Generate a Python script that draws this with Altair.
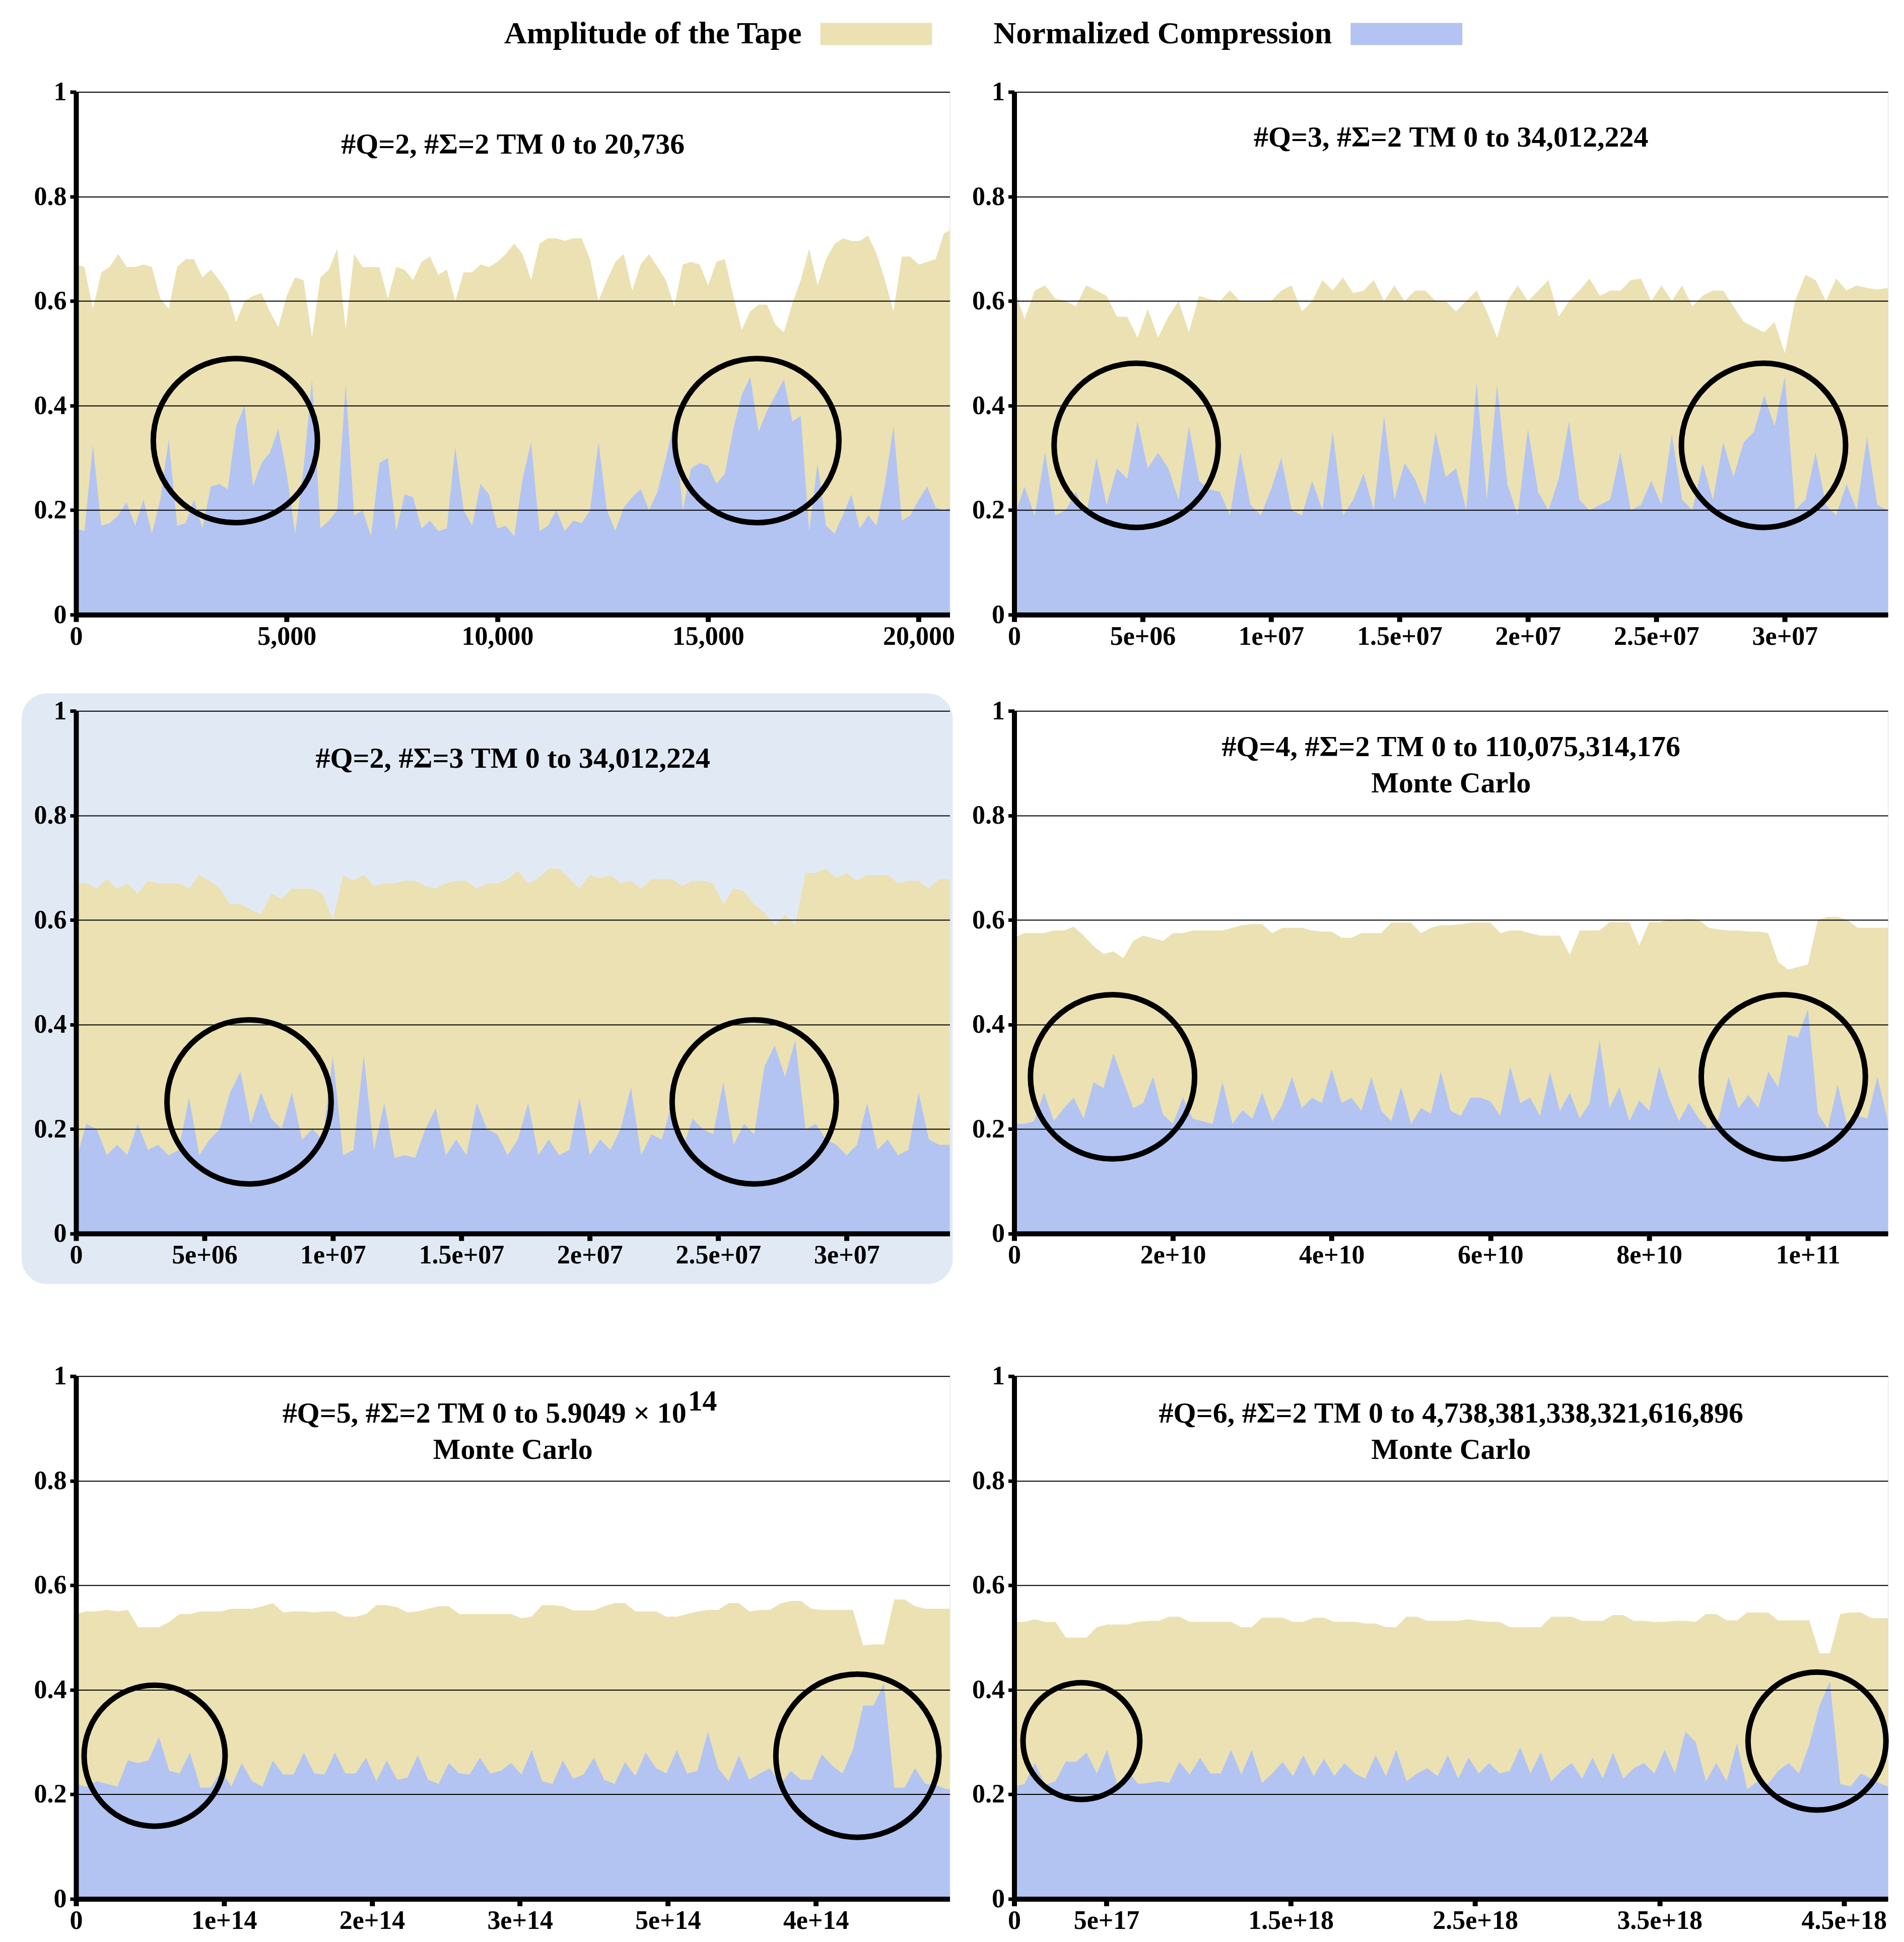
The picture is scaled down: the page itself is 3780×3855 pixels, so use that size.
import altair as alt
import pandas as pd

TAN = "#EBE1B3"
BLUE = "#B3C4F2"
HIGHLIGHT = "#E1EAF4"
FONT = "Liberation Serif"
W, H = 1735, 1038

legend_names = ["Amplitude of the Tape", "Normalized Compression"]
legend_colors = [TAN, BLUE]

# ---------------- panel 1 ----------------
p1_xmax = 20736
p1_step = 200
p1_amp = [0.67, 0.665, 0.585, 0.655, 0.665, 0.69, 0.665, 0.665, 0.67, 0.665,
          0.605, 0.585, 0.665, 0.68, 0.68, 0.645, 0.66, 0.64, 0.615, 0.56,
          0.6, 0.61, 0.615, 0.58, 0.55, 0.61, 0.645, 0.64, 0.53, 0.645,
          0.66, 0.7, 0.545, 0.69, 0.665, 0.665, 0.665, 0.605, 0.665, 0.66,
          0.64, 0.675, 0.685, 0.65, 0.66, 0.6, 0.655, 0.655, 0.67, 0.665,
          0.675, 0.69, 0.71, 0.69,
          0.64, 0.71, 0.72, 0.72, 0.715, 0.72, 0.72, 0.68, 0.6, 0.64,
          0.675, 0.69, 0.62, 0.67, 0.69, 0.665, 0.64, 0.59, 0.67, 0.675,
          0.67, 0.63, 0.675, 0.68, 0.61, 0.545, 0.58, 0.593, 0.593, 0.555,
          0.54, 0.596, 0.64, 0.7, 0.63, 0.68, 0.709, 0.72, 0.715, 0.715,
          0.725, 0.69, 0.64, 0.58, 0.685, 0.685, 0.67, 0.675, 0.68, 0.73,
          0.735]
p1_comp = [0.165, 0.16, 0.324, 0.17, 0.175, 0.19, 0.215, 0.17, 0.22, 0.155,
           0.22, 0.335, 0.17, 0.175, 0.22, 0.165, 0.245, 0.25, 0.24, 0.36,
           0.40, 0.245, 0.29, 0.31, 0.355, 0.27, 0.155, 0.28, 0.45, 0.165,
           0.18, 0.2, 0.44, 0.19, 0.2, 0.15, 0.29, 0.3, 0.16, 0.23,
           0.225, 0.165, 0.18, 0.16, 0.165, 0.32, 0.2, 0.17, 0.25, 0.23,
           0.165, 0.17, 0.15, 0.26,
           0.33, 0.16, 0.17, 0.2, 0.16, 0.18, 0.175, 0.2, 0.33, 0.2,
           0.16, 0.205, 0.225, 0.24, 0.2, 0.235, 0.3, 0.37, 0.2, 0.28,
           0.29, 0.285, 0.25, 0.27, 0.355, 0.42, 0.455, 0.35, 0.39, 0.42,
           0.45, 0.37, 0.38, 0.16, 0.29, 0.17, 0.155, 0.19, 0.23, 0.165,
           0.19, 0.17, 0.25, 0.36, 0.18, 0.19, 0.22, 0.245, 0.205, 0.2,
           0.205]
p1_ticks = [0, 5000, 10000, 15000, 20000]
p1_labels = ["0", "5,000", "10,000", "15,000", "20,000"]
p1_circle_x = [3781, 16158]
p1_circle_y = [0.333, 0.333]
p1_title = ["#Q=2, #\u03a3=2 TM 0 to 20,736"]

# ---------------- panel 2 ----------------
p2_xmax = 34012224
p2_step = 400000
p2_amp = [0.625, 0.565, 0.62, 0.63, 0.605, 0.6, 0.59, 0.63, 0.62, 0.61,
          0.57, 0.57, 0.53, 0.585, 0.53, 0.57, 0.6, 0.54, 0.61, 0.604,
          0.6, 0.62, 0.6, 0.6, 0.6, 0.6, 0.62, 0.63, 0.58, 0.6,
          0.64, 0.62, 0.645, 0.615, 0.62, 0.64, 0.6, 0.63, 0.6, 0.62,
          0.62, 0.6, 0.6, 0.58, 0.6, 0.62, 0.58, 0.53, 0.6, 0.63,
          0.6, 0.62, 0.64, 0.57, 0.6, 0.62, 0.643, 0.61, 0.62, 0.62,
          0.64, 0.643, 0.6, 0.63, 0.6, 0.63, 0.59, 0.61, 0.62, 0.62,
          0.59, 0.56, 0.55, 0.54, 0.56, 0.5, 0.6, 0.65, 0.64, 0.6,
          0.643, 0.62, 0.63, 0.625, 0.622, 0.625, 0.62]
p2_comp = [0.185, 0.245, 0.19, 0.31, 0.19, 0.2, 0.235, 0.19, 0.3, 0.21,
           0.28, 0.26, 0.37, 0.28, 0.31, 0.28, 0.22, 0.36, 0.256, 0.24,
           0.235, 0.19, 0.31, 0.21, 0.19, 0.24, 0.3, 0.2, 0.19, 0.256,
           0.2, 0.35, 0.19, 0.22, 0.27, 0.2, 0.38, 0.22, 0.29, 0.26,
           0.21, 0.35, 0.263, 0.28, 0.2, 0.444, 0.22, 0.44, 0.25, 0.19,
           0.355, 0.234, 0.2, 0.26, 0.37, 0.22, 0.2, 0.21, 0.22, 0.31,
           0.2, 0.21, 0.256, 0.21, 0.345, 0.22, 0.2, 0.29, 0.22, 0.33,
           0.263, 0.33, 0.35, 0.42, 0.36, 0.455, 0.2, 0.22, 0.31, 0.21,
           0.19, 0.25, 0.2, 0.34, 0.21, 0.2, 0.2]
p2_ticks = [0, 5e6, 1e7, 1.5e7, 2e7, 2.5e7, 3e7]
p2_labels = ["0", "5e+06", "1e+07", "1.5e+07", "2e+07", "2.5e+07", "3e+07"]
p2_circle_x = [4.748e6, 2.917e7]
p2_circle_y = [0.324, 0.324]
p2_title = ["#Q=3, #\u03a3=2 TM 0 to 34,012,224"]

# ---------------- panel 3 ----------------
p3_xmax = 34012224
p3_step = 400000
p3_amp = [0.67, 0.67, 0.66, 0.678, 0.66, 0.67, 0.65, 0.675, 0.67, 0.67,
          0.67, 0.66, 0.686, 0.675, 0.66, 0.63, 0.63, 0.62, 0.61, 0.65,
          0.64, 0.66, 0.66, 0.66, 0.65, 0.6, 0.686, 0.675, 0.686, 0.665,
          0.67, 0.67, 0.675, 0.675, 0.665, 0.66, 0.67, 0.675, 0.675, 0.66,
          0.67, 0.67, 0.678, 0.694, 0.67, 0.68, 0.698, 0.698, 0.68, 0.66,
          0.686, 0.68, 0.686, 0.67, 0.675, 0.66, 0.678, 0.678, 0.678, 0.665,
          0.675, 0.675, 0.67, 0.63, 0.66, 0.655, 0.63, 0.614, 0.59, 0.61,
          0.59, 0.69, 0.69, 0.698, 0.68, 0.69, 0.675, 0.686, 0.686, 0.686,
          0.67, 0.675, 0.675, 0.66, 0.678, 0.678, 0.675]
p3_comp = [0.14, 0.21, 0.2, 0.15, 0.17, 0.15, 0.21, 0.16, 0.17, 0.15,
           0.16, 0.26, 0.15, 0.18, 0.2, 0.27, 0.31, 0.21, 0.27, 0.22,
           0.2, 0.27, 0.18, 0.2, 0.18, 0.34, 0.15, 0.16, 0.34, 0.16,
           0.25, 0.145, 0.15, 0.145, 0.2, 0.24, 0.15, 0.18, 0.15, 0.25,
           0.2, 0.19, 0.15, 0.18, 0.25, 0.15, 0.18, 0.15, 0.16, 0.26,
           0.15, 0.18, 0.16, 0.2, 0.28, 0.15, 0.19, 0.18, 0.25, 0.16,
           0.22, 0.2, 0.19, 0.29, 0.17, 0.21, 0.19, 0.32, 0.36, 0.3,
           0.37, 0.2, 0.21, 0.18, 0.17, 0.15, 0.17, 0.25, 0.16, 0.18,
           0.15, 0.16, 0.27, 0.18, 0.17, 0.17, 0.17]
p3_ticks = p2_ticks
p3_labels = p2_labels
p3_circle_x = [6.735e6, 2.640e7]
p3_circle_y = [0.252, 0.252]
p3_title = ["#Q=2, #\u03a3=3 TM 0 to 34,012,224"]

# ---------------- panel 4 ----------------
p4_xmax = 110075314176
p4_step = 1.25e9
p4_amp = [0.566, 0.575, 0.575, 0.575, 0.58, 0.58, 0.587, 0.57, 0.55, 0.535,
          0.54, 0.527, 0.56, 0.57, 0.565, 0.56, 0.575, 0.575, 0.58, 0.58,
          0.58, 0.58, 0.585, 0.59, 0.592, 0.592, 0.575, 0.585, 0.585, 0.585,
          0.58, 0.578, 0.578, 0.566, 0.566, 0.575, 0.575, 0.575, 0.595, 0.595,
          0.595, 0.575, 0.585, 0.59, 0.59, 0.592, 0.595, 0.595, 0.595, 0.575,
          0.58, 0.58, 0.575, 0.57, 0.57, 0.57, 0.534, 0.58, 0.58, 0.58,
          0.596, 0.596, 0.596, 0.551, 0.596, 0.596, 0.6, 0.6, 0.602, 0.6,
          0.585, 0.582, 0.58, 0.58, 0.578, 0.578, 0.575, 0.52, 0.505, 0.51,
          0.515, 0.6, 0.606, 0.606, 0.6, 0.585, 0.585, 0.585, 0.585, 0.585]
p4_comp = [0.21, 0.21, 0.215, 0.27, 0.215, 0.24, 0.26, 0.22, 0.29, 0.278,
           0.345, 0.292, 0.24, 0.25, 0.3, 0.228, 0.21, 0.26, 0.22, 0.215,
           0.21, 0.29, 0.21, 0.236, 0.22, 0.27, 0.215, 0.245, 0.3, 0.24,
           0.26, 0.25, 0.315, 0.25, 0.26, 0.235, 0.3, 0.235, 0.215, 0.28,
           0.21, 0.24, 0.23, 0.31, 0.235, 0.225, 0.26, 0.26, 0.253, 0.225,
           0.32, 0.25, 0.26, 0.225, 0.31, 0.235, 0.27, 0.22, 0.25, 0.37,
           0.24, 0.28, 0.215, 0.255, 0.235, 0.32, 0.26, 0.215, 0.25, 0.22,
           0.2, 0.22, 0.3, 0.24, 0.265, 0.24, 0.31, 0.28, 0.38, 0.375,
           0.43, 0.23, 0.2, 0.285, 0.205, 0.225, 0.22, 0.3, 0.22, 0.21]
p4_ticks = [0, 2e10, 4e10, 6e10, 8e10, 1e11]
p4_labels = ["0", "2e+10", "4e+10", "6e+10", "8e+10", "1e+11"]
p4_circle_x = [1.239e10, 9.69e10]
p4_circle_y = [0.30, 0.30]
p4_title = ["#Q=4, #\u03a3=2 TM 0 to 110,075,314,176", "Monte Carlo"]

# ---------------- panel 5 ----------------
p5_xmax = 5.9049e14
p5_step = 7e12
p5_amp = [0.545, 0.55, 0.55, 0.553, 0.55, 0.553, 0.52, 0.52, 0.52, 0.53,
          0.545, 0.545, 0.55, 0.55, 0.55, 0.555, 0.555, 0.555, 0.56, 0.566,
          0.548, 0.55, 0.55, 0.548, 0.55, 0.55, 0.54, 0.54, 0.545, 0.562,
          0.562, 0.558, 0.548, 0.55, 0.555, 0.56, 0.56, 0.545, 0.545, 0.545,
          0.545, 0.545, 0.545, 0.537, 0.54, 0.562, 0.562, 0.56, 0.552, 0.552,
          0.552, 0.56, 0.566, 0.566, 0.55, 0.55, 0.55, 0.54, 0.54, 0.545,
          0.55, 0.553, 0.553, 0.566, 0.566, 0.55, 0.553, 0.553, 0.565, 0.57,
          0.57, 0.555, 0.553, 0.553, 0.553, 0.553, 0.485, 0.487, 0.487, 0.573,
          0.573, 0.56, 0.555, 0.555, 0.555, 0.555]
p5_comp = [0.22, 0.215, 0.225, 0.22, 0.215, 0.265, 0.26, 0.265, 0.31, 0.245,
           0.24, 0.28, 0.213, 0.213, 0.245, 0.215, 0.26, 0.225, 0.215, 0.265,
           0.238, 0.238, 0.28, 0.24, 0.238, 0.28, 0.24, 0.24, 0.27, 0.225,
           0.265, 0.228, 0.232, 0.275, 0.228, 0.22, 0.26, 0.24, 0.238, 0.27,
           0.24, 0.245, 0.26, 0.238, 0.285, 0.225, 0.22, 0.265, 0.23, 0.238,
           0.27, 0.228, 0.22, 0.262, 0.235, 0.28, 0.25, 0.24, 0.285, 0.24,
           0.245, 0.32, 0.25, 0.225, 0.275, 0.228, 0.24, 0.25, 0.218, 0.245,
           0.228, 0.228, 0.277, 0.255, 0.24, 0.285, 0.37, 0.37, 0.412, 0.213,
           0.213, 0.25, 0.22, 0.218, 0.21, 0.21]
p5_ticks = [0, 1e14, 2e14, 3e14, 4e14, 5e14]
p5_labels = ["0", "1e+14", "2e+14", "3e+14", "5e+14", "4e+14"]
p5_circle_x = [5.31e13, 5.281e14]
p5_circle_y = [0.274, 0.274]
p5_title = ["#Q=5, #\u03a3=2 TM 0 to 5.9049 \u00d7 10", "Monte Carlo"]
p5_sup = "14"

# ---------------- panel 6 ----------------
p6_xmax = 4738381338321616896
p6_step = 5.6e16
p6_amp = [0.53, 0.53, 0.535, 0.53, 0.53, 0.5, 0.5, 0.5, 0.52, 0.525,
          0.525, 0.525, 0.53, 0.532, 0.532, 0.54, 0.54, 0.53, 0.53, 0.53,
          0.53, 0.53, 0.52, 0.52, 0.538, 0.538, 0.538, 0.53, 0.53, 0.538,
          0.538, 0.53, 0.53, 0.53, 0.527, 0.527, 0.52, 0.52, 0.54, 0.54,
          0.532, 0.532, 0.532, 0.532, 0.535, 0.532, 0.53, 0.53, 0.52, 0.52,
          0.52, 0.52, 0.54, 0.54, 0.54, 0.532, 0.532, 0.532, 0.543, 0.543,
          0.532, 0.532, 0.53, 0.53, 0.532, 0.532, 0.53, 0.545, 0.545, 0.533,
          0.533, 0.548, 0.548, 0.548, 0.533, 0.533, 0.533, 0.533, 0.47, 0.47,
          0.545, 0.548, 0.548, 0.537, 0.537, 0.537]
p6_comp = [0.215, 0.22, 0.26, 0.218, 0.225, 0.263, 0.262, 0.28, 0.24, 0.285,
           0.218, 0.245, 0.22, 0.222, 0.225, 0.222, 0.262, 0.238, 0.27, 0.24,
           0.24, 0.285, 0.238, 0.285, 0.222, 0.24, 0.262, 0.235, 0.275, 0.235,
           0.268, 0.235, 0.26, 0.24, 0.23, 0.275, 0.235, 0.285, 0.225, 0.24,
           0.25, 0.235, 0.275, 0.23, 0.27, 0.24, 0.26, 0.24, 0.245, 0.29,
           0.24, 0.28, 0.225, 0.245, 0.26, 0.23, 0.27, 0.23, 0.28, 0.23,
           0.25, 0.26, 0.24, 0.285, 0.24, 0.32, 0.3, 0.225, 0.26, 0.225,
           0.298, 0.21, 0.225, 0.22, 0.245, 0.26, 0.24, 0.295, 0.37, 0.416,
           0.22, 0.215, 0.24, 0.23, 0.22, 0.215]
p6_ticks = [0, 5e17, 1.5e18, 2.5e18, 3.5e18, 4.5e18]
p6_labels = ["0", "5e+17", "1.5e+18", "2.5e+18", "3.5e+18", "4.5e+18"]
p6_circle_x = [3.645e17, 4.354e18]
p6_circle_y = [0.302, 0.302]
p6_title = ["#Q=6, #\u03a3=2 TM 0 to 4,738,381,338,321,616,896", "Monte Carlo"]

y_ticks = [0, 0.2, 0.4, 0.6, 0.8, 1]

TITLE_SIZE = 58
TICK_SIZE = 52
LEGEND_SIZE = 62


def series_df(xmax, step, amp, comp):
    n = len(amp)
    xs = [i * step for i in range(n - 1)] + [xmax]
    return pd.DataFrame({"x": xs, "amp": amp, "comp": comp})


def spacer(x, y):
    # invisible layout helper that reserves room above the bottom row
    return alt.Chart(pd.DataFrame({"k": [0]})).mark_rule(opacity=0).encode(
        x=alt.value(x), x2=alt.value(x), y=alt.value(y), y2=alt.value(y + 1))


def legend_layers():
    out = []
    sw_left = [1478, 2531]
    for name, col, x0 in zip(legend_names, legend_colors, sw_left):
        out.append(alt.Chart(pd.DataFrame({"t": [name]})).mark_text(
            font=FONT, fontWeight="bold", fontSize=LEGEND_SIZE, color="black",
            align="right", baseline="middle").encode(
            x=alt.value(x0 - 37), y=alt.value(-115), text="t:N"))
        out.append(alt.Chart(pd.DataFrame({"k": [0]})).mark_rect(color=col).encode(
            x=alt.value(x0), x2=alt.value(x0 + 222),
            y=alt.value(-137), y2=alt.value(-93)))
    return out


def panel(df, xmax, ticks, labels, cx, cy, radii, title_lines, title_y,
          highlight=False, sup=None, extra=None):
    label_expr = " : ".join(
        f"datum.value == {v!r} ? '{l}'" for v, l in zip(ticks, labels)) + " : ''"
    xscale = alt.Scale(domain=[0, xmax], nice=False, zero=True)
    yscale = alt.Scale(domain=[0, 1], nice=False)
    xaxis = alt.Axis(values=ticks, labelExpr=label_expr, title=None, grid=False,
                     domainColor="black", domainWidth=10, tickColor="black",
                     tickWidth=10, tickSize=14, labelFont=FONT, labelFontWeight="bold",
                     labelFontSize=TICK_SIZE, labelColor="black", labelPadding=4,
                     labelFlush=False, labelOverlap=False, zindex=1)
    yaxis = alt.Axis(values=y_ticks, format="~g", title=None, grid=True,
                     gridColor="black", gridWidth=2, domainColor="black",
                     domainWidth=10, tickColor="black", tickWidth=7, tickSize=12,
                     labelFont=FONT, labelFontWeight="bold", labelFontSize=TICK_SIZE,
                     labelColor="black", labelPadding=7, zindex=1)
    layers = []
    if highlight:
        layers.append(
            alt.Chart(pd.DataFrame({"k": [0]})).mark_rect(
                color=HIGHLIGHT, cornerRadius=50).encode(
                x=alt.value(-108), x2=alt.value(W + 6),
                y=alt.value(-35), y2=alt.value(H + 100)))
    base = alt.Chart(df)
    layers.append(base.mark_area(color=TAN, opacity=1).encode(
        x=alt.X("x:Q", scale=xscale, axis=xaxis),
        y=alt.Y("amp:Q", scale=yscale, axis=yaxis)))
    layers.append(base.mark_area(color=BLUE, opacity=1).encode(
        x=alt.X("x:Q", scale=xscale, axis=xaxis),
        y=alt.Y("comp:Q", scale=yscale, axis=yaxis)))
    # Vega circle symbols: diameter = sqrt(size)
    cdf = pd.DataFrame({"cx": cx, "cy": cy, "s": [(2 * r) ** 2 for r in radii]})
    layers.append(alt.Chart(cdf).mark_point(
        shape="circle", filled=False, stroke="black", strokeWidth=11,
        opacity=1).encode(
        x=alt.X("cx:Q", scale=xscale, axis=xaxis),
        y=alt.Y("cy:Q", scale=yscale, axis=yaxis),
        size=alt.Size("s:Q", scale=None)))
    for i, line in enumerate(title_lines):
        if sup is not None and i == 0:
            layers.append(alt.Chart(pd.DataFrame({"t": [line]})).mark_text(
                font=FONT, fontWeight="bold", fontSize=TITLE_SIZE, color="black",
                align="right", baseline="middle").encode(
                x=alt.value(1212), y=alt.value(title_y[i]), text="t:N"))
            layers.append(alt.Chart(pd.DataFrame({"t": [sup]})).mark_text(
                font=FONT, fontWeight="bold", fontSize=TITLE_SIZE, color="black",
                align="left", baseline="middle").encode(
                x=alt.value(1215), y=alt.value(title_y[i] - 24), text="t:N"))
        else:
            layers.append(alt.Chart(pd.DataFrame({"t": [line]})).mark_text(
                font=FONT, fontWeight="bold", fontSize=TITLE_SIZE, color="black",
                align="center", baseline="middle").encode(
                x=alt.value(W / 2), y=alt.value(title_y[i]), text="t:N"))
    if extra:
        layers.extend(extra)
    return alt.layer(*layers).properties(width=W, height=H)


r_big = 163
c1 = panel(series_df(p1_xmax, p1_step, p1_amp, p1_comp), p1_xmax, p1_ticks,
           p1_labels, p1_circle_x, p1_circle_y, [r_big, r_big], p1_title, [106],
           extra=legend_layers())
c2 = panel(series_df(p2_xmax, p2_step, p2_amp, p2_comp), p2_xmax, p2_ticks,
           p2_labels, p2_circle_x, p2_circle_y, [r_big, r_big], p2_title, [92])
c3 = panel(series_df(p3_xmax, p3_step, p3_amp, p3_comp), p3_xmax, p3_ticks,
           p3_labels, p3_circle_x, p3_circle_y, [r_big, r_big], p3_title, [96],
           highlight=True)
c4 = panel(series_df(p4_xmax, p4_step, p4_amp, p4_comp), p4_xmax, p4_ticks,
           p4_labels, p4_circle_x, p4_circle_y, [r_big, r_big], p4_title, [73, 145])
c5 = panel(series_df(p5_xmax, p5_step, p5_amp, p5_comp), p5_xmax, p5_ticks,
           p5_labels, p5_circle_x, p5_circle_y, [140, 162], p5_title, [75, 147],
           sup=p5_sup, extra=[spacer(-92, -96)])
c6 = panel(series_df(p6_xmax, p6_step, p6_amp, p6_comp), p6_xmax, p6_ticks,
           p6_labels, p6_circle_x, p6_circle_y, [116, 137], p6_title, [75, 147])

row1 = alt.hconcat(c1, c2, spacing=128, bounds="flush")
row2 = alt.hconcat(c3, c4, spacing=128, bounds="flush")
row3 = alt.hconcat(c5, c6, spacing=128, bounds="flush")

chart = alt.vconcat(row1, row2, row3, spacing=85).properties(
    padding={"left": 34, "top": 27, "right": 5, "bottom": 5}
).configure_view(strokeWidth=0).configure(background="white")

chart.save("out.html", embed_options={"renderer": "svg", "actions": False})
